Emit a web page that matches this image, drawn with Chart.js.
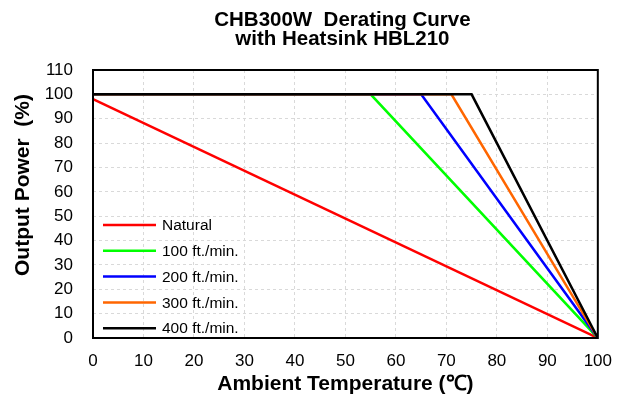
<!DOCTYPE html>
<html>
<head>
<meta charset="utf-8">
<script src="https://cdn.jsdelivr.net/npm/chart.js@4"></script>
<style>
  html, body { margin: 0; padding: 0; background: #fff; }
  #wrap { width: 625px; height: 398px; }
</style>
</head>
<body>
<div id="wrap"><canvas id="chart" width="625" height="398"></canvas></div>
<script>
// series (x = ambient temperature in C, y = output power in %)
const seriesNames = ["Natural", "100 ft./min.", "200 ft./min.", "300 ft./min.", "400 ft./min."];
const naturalX = [0, 100];
const naturalY = [98, 0];
const ft100X = [0, 55, 100];
const ft100Y = [100, 100, 0];
const ft200X = [0, 65, 100];
const ft200Y = [100, 100, 0];
const ft300X = [0, 71, 100];
const ft300Y = [100, 100, 0];
const ft400X = [0, 75, 100];
const ft400Y = [100, 100, 0];
const seriesColors = ["#ff0000", "#00ff00", "#0000ff", "#ff6600", "#000000"];

const xTicks = [0, 10, 20, 30, 40, 50, 60, 70, 80, 90, 100];
const yTicks = [0, 10, 20, 30, 40, 50, 60, 70, 80, 90, 100, 110];
const titleLines = ["CHB300W  Derating Curve", "with Heatsink HBL210"];
const yTitle = "Output Power  (%)";

const FONT = "'Liberation Sans', Arial, sans-serif";

function pts(xs, ys) {
  return xs.map((x, i) => ({ x: x, y: ys[i] }));
}

const allX = [naturalX, ft100X, ft200X, ft300X, ft400X];
const allY = [naturalY, ft100Y, ft200Y, ft300Y, ft400Y];

const datasets = seriesNames.map((name, i) => ({
  label: name,
  data: pts(allX[i], allY[i]),
  borderColor: seriesColors[i],
  backgroundColor: seriesColors[i],
  borderWidth: 2.5,
  pointRadius: 0,
  fill: false,
  order: seriesNames.length - i
}));

// frame around plot area, legend inside the plot, chart title and y axis title
const framePlugin = {
  id: "frame",
  afterDraw(chart) {
    const { ctx, chartArea: a } = chart;
    ctx.save();
    ctx.strokeStyle = "#000";
    ctx.lineWidth = 2;
    ctx.strokeRect(a.left, a.top, a.right - a.left, a.bottom - a.top);

    ctx.font = "15.5px " + FONT;
    ctx.textBaseline = "middle";
    ctx.textAlign = "left";
    ctx.fillStyle = "#000";
    chart.data.datasets.forEach((ds, i) => {
      const y = 225 + i * 25.8;
      ctx.strokeStyle = ds.borderColor;
      ctx.lineWidth = 2.5;
      ctx.beginPath();
      ctx.moveTo(103, y);
      ctx.lineTo(156, y);
      ctx.stroke();
      ctx.fillText(ds.label, 162, y + 1);
    });

    // chart title, centred over the plot area
    ctx.font = "bold 20.5px " + FONT;
    ctx.textAlign = "center";
    const cx = (a.left + a.right) / 2;
    titleLines.forEach((t, i) => ctx.fillText(t, cx - 3, 20 + i * 19));

    ctx.translate(22, 185);
    ctx.rotate(-Math.PI / 2);
    ctx.font = "bold 21px " + FONT;
    ctx.fillText(yTitle, 0, 1);
    ctx.restore();
  }
};

new Chart(document.getElementById("chart"), {
  type: "line",
  data: { datasets: datasets },
  plugins: [framePlugin],
  options: {
    responsive: false,
    animation: false,
    layout: { padding: { left: 0, right: 25, top: 70, bottom: 0 } },
    plugins: {
      legend: { display: false },
      tooltip: { enabled: false },
      title: { display: false }
    },
    scales: {
      x: {
        type: "linear",
        min: 0,
        max: 100,
        afterBuildTicks(scale) { scale.ticks = xTicks.map(v => ({ value: v })); },
        afterFit(scale) { scale.height = 60; },
        ticks: {
          color: "#000",
          font: { family: FONT, size: 17 },
          padding: 13
        },
        grid: { color: "#d9d9d9", drawTicks: false, lineWidth: 1 },
        border: { display: false, dash: [3, 3] },
        title: {
          display: true,
          text: "Ambient Temperature (℃)",
          color: "#000",
          font: { family: FONT, size: 21, weight: "bold" },
          padding: { top: 0, bottom: 1 }
        }
      },
      y: {
        type: "linear",
        min: 0,
        max: 110,
        afterBuildTicks(scale) { scale.ticks = yTicks.map(v => ({ value: v })); },
        afterFit(scale) { scale.width = 93; },
        ticks: {
          color: "#000",
          font: { family: FONT, size: 17 },
          padding: 20
        },
        grid: { color: "#d9d9d9", drawTicks: false, lineWidth: 1 },
        border: { display: false, dash: [3, 3] }
      }
    }
  }
});
</script>
</body>
</html>
